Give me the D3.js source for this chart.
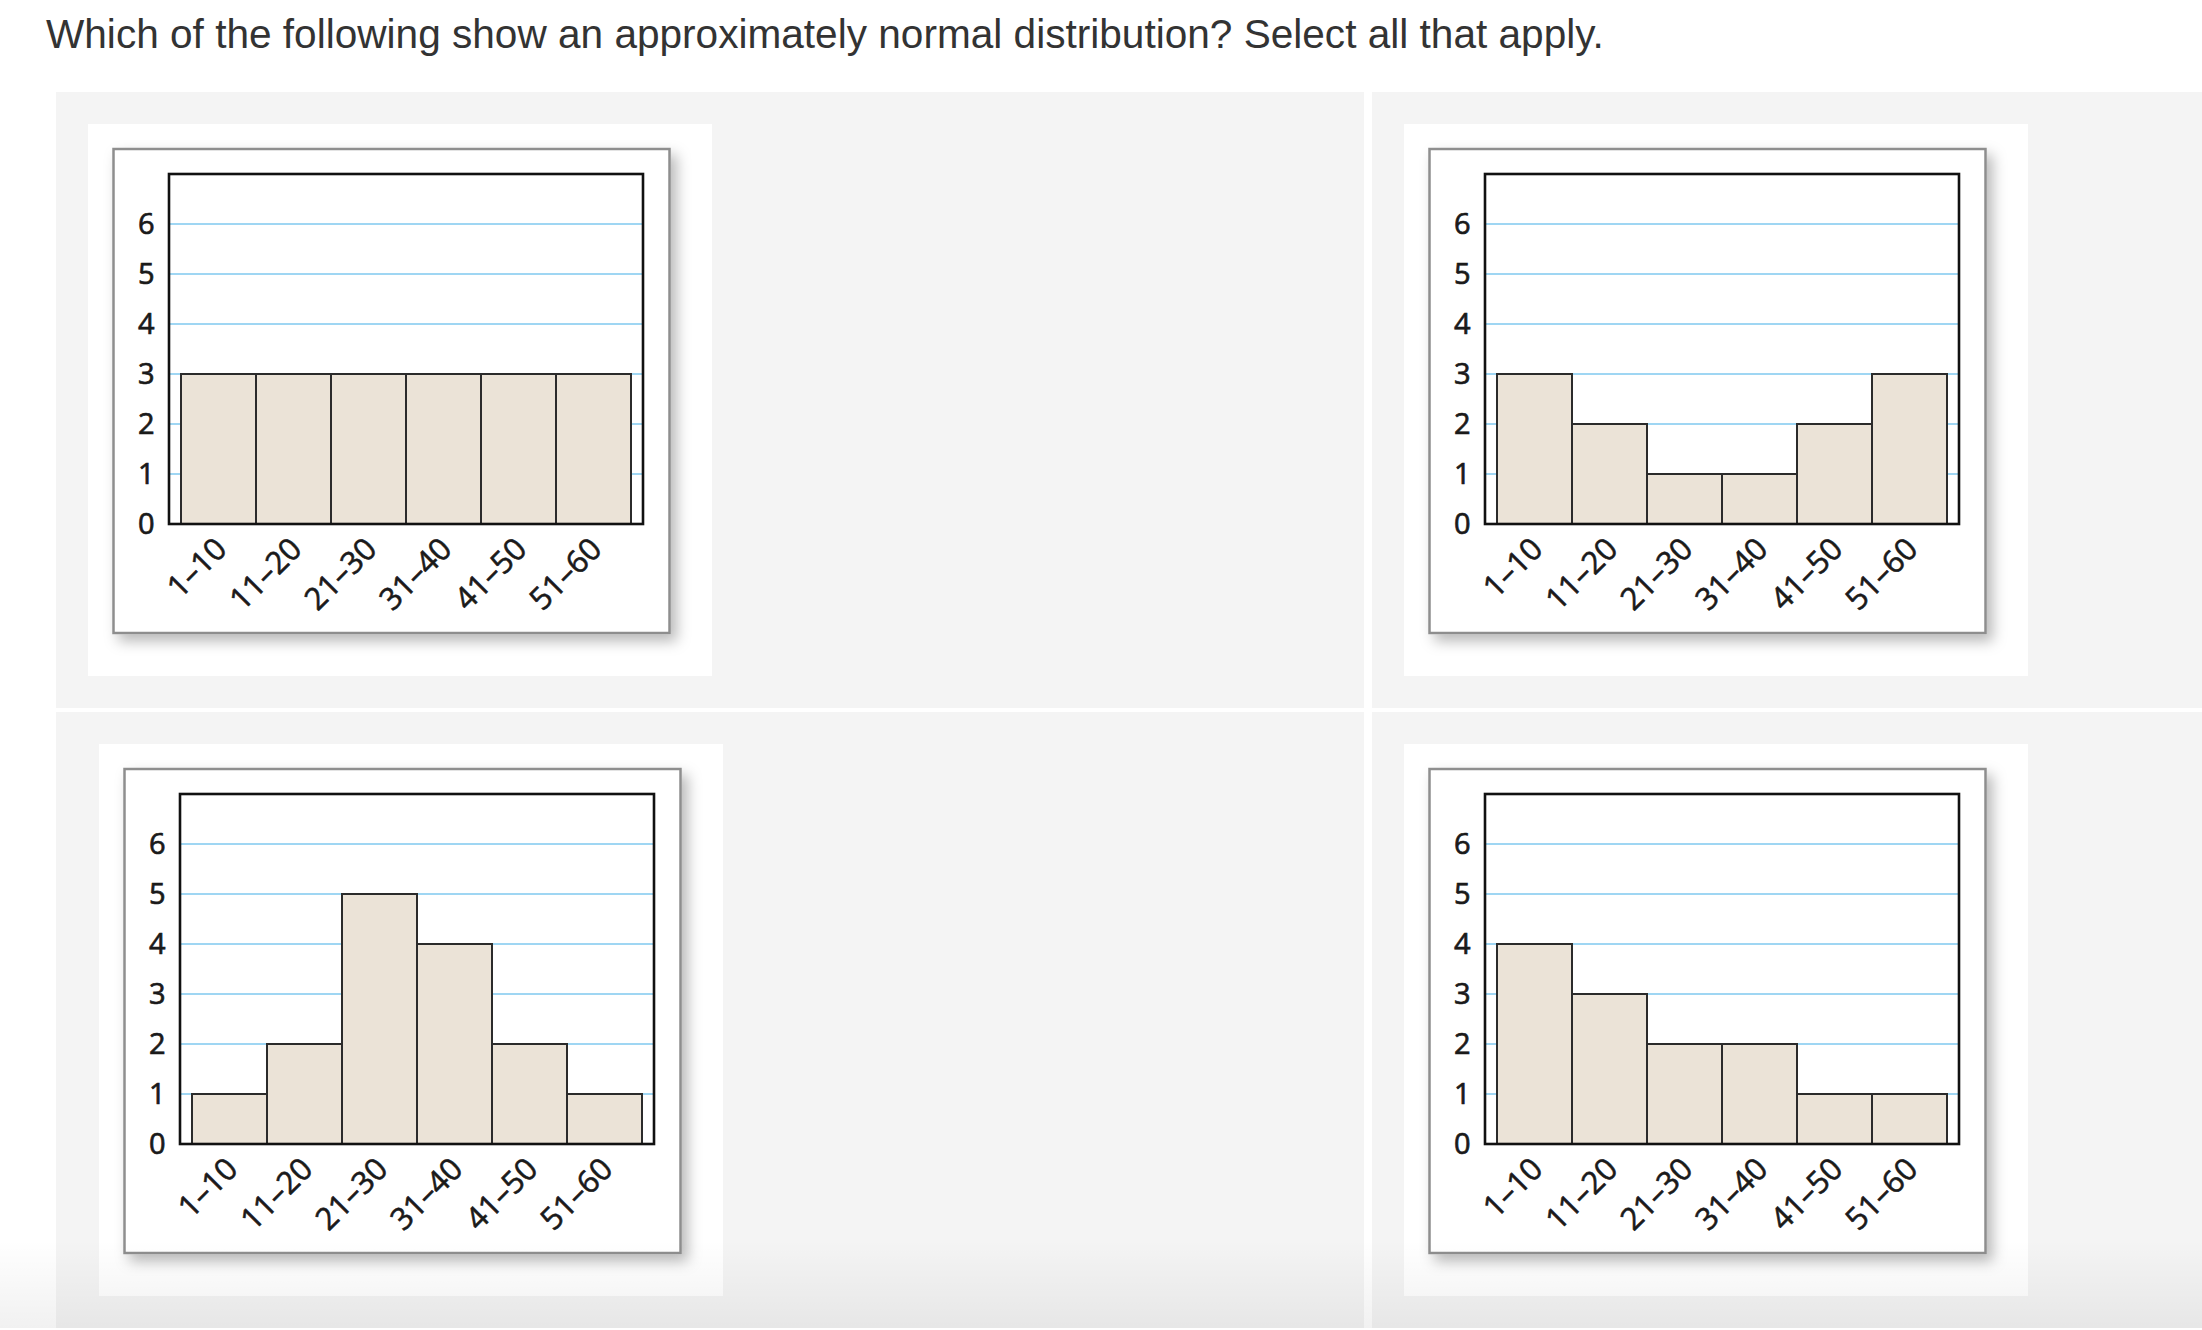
<!DOCTYPE html>
<html>
<head>
<meta charset="utf-8">
<script src="https://cdn.jsdelivr.net/npm/d3@7"></script>
<style>
  html, body { margin: 0; padding: 0; background: #ffffff; }
  svg { display: block; }
</style>
</head>
<body>
<div id="chart"></div>
<script>
// ---------------- DATA ----------------
const titleText = "Which of the following show an approximately normal distribution? Select all that apply.";
const categories = ["1–10", "11–20", "21–30", "31–40", "41–50", "51–60"];
const yTicks = [0, 1, 2, 3, 4, 5, 6];
const gridTicks = [1, 2, 3, 4, 5, 6];
const valuesA = [3, 3, 3, 3, 3, 3];
const valuesB = [3, 2, 1, 1, 2, 3];
const valuesC = [1, 2, 5, 4, 2, 1];
const valuesD = [4, 3, 2, 2, 1, 1];
const yMax = 7;

// ---------------- LAYOUT ----------------
const W = 2202, H = 1330;
const svg = d3.select("#chart").append("svg")
  .attr("width", W).attr("height", H)
  .attr("viewBox", `0 0 ${W} ${H}`);

const defs = svg.append("defs");
const shadow = defs.append("filter").attr("id", "shadow")
  .attr("x", "-10%").attr("y", "-10%").attr("width", "130%").attr("height", "130%");
shadow.append("feDropShadow")
  .attr("dx", 6).attr("dy", 7).attr("stdDeviation", 7)
  .attr("flood-color", "#000").attr("flood-opacity", 0.28);

const fade = defs.append("linearGradient").attr("id", "fade")
  .attr("x1", 0).attr("y1", 0).attr("x2", 0).attr("y2", 1);
fade.append("stop").attr("offset", "0%").attr("stop-color", "#000").attr("stop-opacity", 0);
fade.append("stop").attr("offset", "100%").attr("stop-color", "#000").attr("stop-opacity", 0.055);

svg.append("rect").attr("width", W).attr("height", H).attr("fill", "#ffffff");

// title
const title = svg.append("text")
  .attr("x", 46).attr("y", 48)
  .attr("font-family", "'Liberation Sans', Arial, Helvetica, sans-serif")
  .attr("font-size", 36)
  .attr("fill", "#333333")
  .text(titleText);
const tw = title.node().getComputedTextLength();
title.attr("font-size", 36 * 1558 / tw);

// grey panels
const panels = [
  { x: 56, y: 92, w: 1308, h: 616 },
  { x: 1372, y: 92, w: 830, h: 616 },
  { x: 56, y: 712, w: 1308, h: 616 },
  { x: 1372, y: 712, w: 830, h: 616 }
];
svg.selectAll("rect.panel").data(panels).join("rect")
  .attr("class", "panel")
  .attr("x", d => d.x).attr("y", d => d.y)
  .attr("width", d => d.w).attr("height", d => d.h)
  .attr("fill", "#f4f4f4");

// charts
const charts = [
  { values: valuesA, cx: 88, cy: 124 },
  { values: valuesB, cx: 1404, cy: 124 },
  { values: valuesC, cx: 99, cy: 744 },
  { values: valuesD, cx: 1404, cy: 744 }
];

const cardW = 624, cardH = 552;
const frameDX = 25.5, frameDY = 25, frameW = 556, frameH = 484;
const plotDX = 55.5, plotDY = 25, plotW = 474, plotH = 350;
const labelFont = "'Open Sans', 'Noto Sans', sans-serif";
const fs = 29;
const xfs = 31;

charts.forEach(c => {
  const g = svg.append("g").attr("transform", `translate(${c.cx},${c.cy})`);
  g.append("rect").attr("width", cardW).attr("height", cardH).attr("fill", "#ffffff");

  const fr = g.append("g").attr("transform", `translate(${frameDX},${frameDY})`);
  fr.append("rect")
    .attr("width", frameW).attr("height", frameH)
    .attr("fill", "#ffffff")
    .attr("stroke", "#8e8e8e").attr("stroke-width", 2.5)
    .attr("filter", "url(#shadow)");

  const p = fr.append("g").attr("transform", `translate(${plotDX},${plotDY})`);

  const x = d3.scaleBand().domain(categories).range([12, plotW - 12]).padding(0);
  const y = d3.scaleLinear().domain([0, yMax]).range([plotH, 0]);

  p.append("rect").attr("width", plotW).attr("height", plotH).attr("fill", "#ffffff");

  // gridlines
  p.selectAll("line.grid").data(gridTicks).join("line")
    .attr("class", "grid")
    .attr("x1", 0).attr("x2", plotW)
    .attr("y1", d => y(d)).attr("y2", d => y(d))
    .attr("stroke", "#9fd6f3").attr("stroke-width", 2.2);

  // bars
  p.selectAll("rect.bar").data(c.values).join("rect")
    .attr("class", "bar")
    .attr("x", (d, i) => x(categories[i]))
    .attr("y", d => y(d))
    .attr("width", x.bandwidth())
    .attr("height", d => y(0) - y(d))
    .attr("fill", "#ebe3d7")
    .attr("stroke", "#2b2b2b").attr("stroke-width", 2);

  // plot frame
  p.append("rect").attr("width", plotW).attr("height", plotH)
    .attr("fill", "none").attr("stroke", "#111111").attr("stroke-width", 2.6);

  // y labels
  p.selectAll("text.ytick").data(yTicks).join("text")
    .attr("class", "ytick")
    .attr("x", -14.5)
    .attr("y", d => y(d) + fs * 0.357)
    .attr("text-anchor", "end")
    .attr("font-family", labelFont).attr("font-size", fs)
    .attr("fill", "#1a1a1a").attr("stroke", "#1a1a1a").attr("stroke-width", 0.7)
    .text(d => d);

  // x labels
  p.selectAll("text.xtick").data(categories).join("text")
    .attr("class", "xtick")
    .attr("transform", d => `translate(${x(d) + x.bandwidth() / 2 + 10},${plotH + 27}) rotate(-45)`)
    .attr("text-anchor", "end")
    .attr("font-family", labelFont).attr("font-size", xfs)
    .attr("fill", "#1a1a1a").attr("stroke", "#1a1a1a").attr("stroke-width", 0.6)
    .text(d => d);
});

// bottom fade
svg.append("rect").attr("x", 0).attr("y", 1240).attr("width", W).attr("height", 88)
  .attr("fill", "url(#fade)");
</script>
</body>
</html>
